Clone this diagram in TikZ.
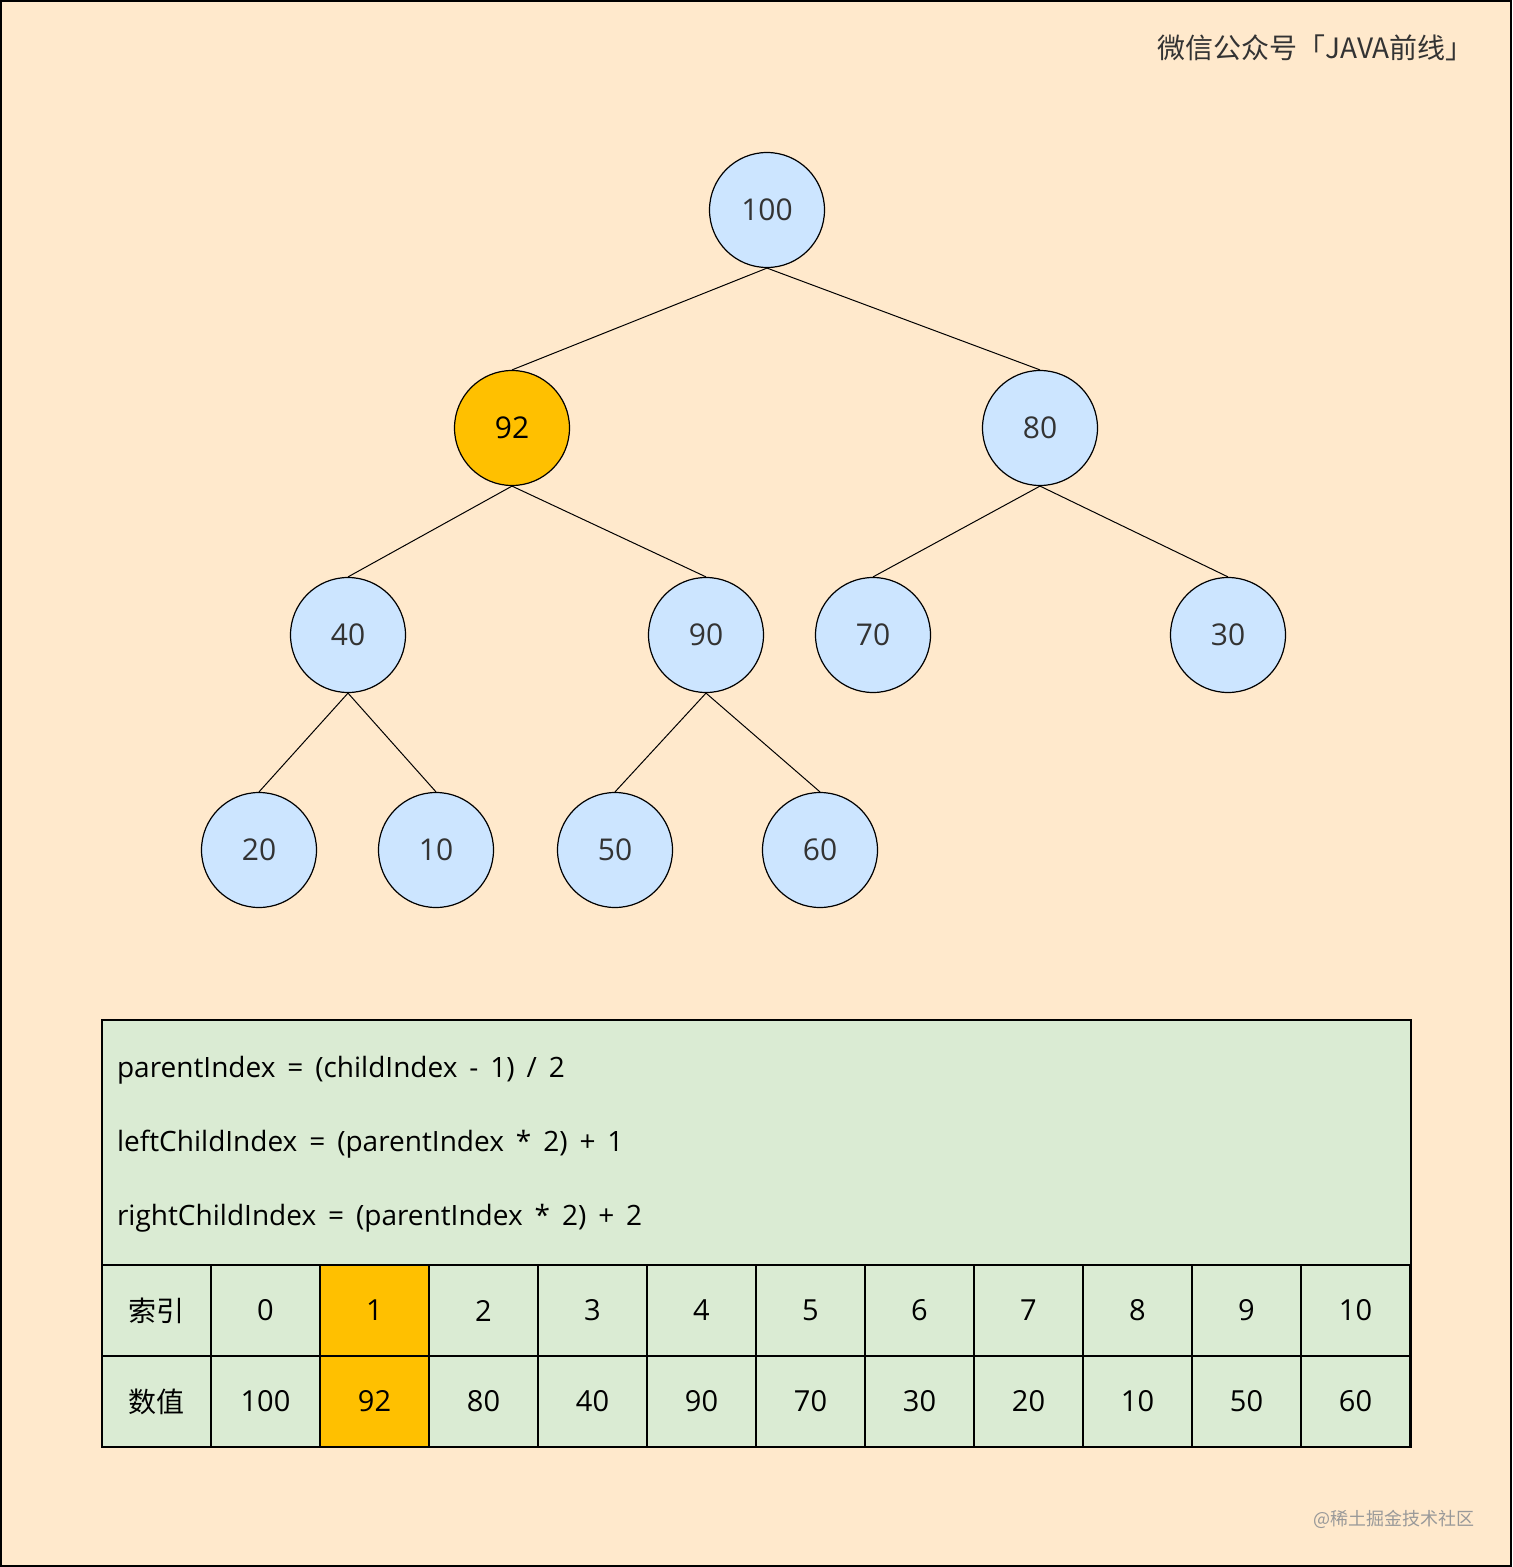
\documentclass[tikz,border=0pt]{standalone}
\usepackage{fontspec}
\setmainfont{Open Sans}
\newfontfamily\cjk{Noto Sans CJK SC}
\definecolor{bg}{HTML}{FFE9CC}
\definecolor{nb}{HTML}{CCE5FF}
\definecolor{og}{HTML}{FFC000}
\definecolor{gr}{HTML}{DAEBD3}
\definecolor{tx}{HTML}{333333}
\begin{document}
\begin{tikzpicture}[x=0.5pt,y=-0.5pt,
  nd/.style={circle,draw=black,line width=0.6pt,fill=nb,minimum size=57.5pt,inner sep=0pt,font=\fontsize{15}{18}\selectfont,text=tx},
  cell/.style={draw=black,line width=0.6pt,minimum width=54.5pt,minimum height=45.5pt,inner sep=0pt,fill=gr,font=\fontsize{14.5}{17}\selectfont,text=black},
  ed/.style={line width=0.5pt}]
\path[fill=bg,draw=black,line width=0.8pt] (1,1) rectangle (1511,1566);
\useasboundingbox (0,0) rectangle (1512,1567);
\node[anchor=east,font=\cjk\fontsize{14}{17}\selectfont,text=tx] (title) at (1481,48) {微信公众号「JAVA前线」};
\node[nd] (a) at (767,210) {100};
\node[nd,fill=og,text=black] (b) at (512,428) {92};
\node[nd] (c) at (1040,428) {80};
\node[nd] (d) at (348,635) {40};
\node[nd] (e) at (706,635) {90};
\node[nd] (f) at (873,635) {70};
\node[nd] (g) at (1228,635) {30};
\node[nd] (h) at (259,850) {20};
\node[nd] (i) at (436,850) {10};
\node[nd] (j) at (615,850) {50};
\node[nd] (k) at (820,850) {60};
\foreach \p/\q in {a/b,a/c,b/d,b/e,c/f,c/g,d/h,d/i,e/j,e/k}
  \draw[ed] (\p.south) -- (\q.north);
\path[fill=gr,draw=black,line width=0.8pt] (102,1020) rectangle (1411,1265);
\node[anchor=west,font=\fontsize{14}{17}\selectfont] (f1) at (110,1070) {parentIndex\ \,=\ \,(childIndex\ \,-\ \,1)\ \,/\ \,2};
\node[anchor=west,font=\fontsize{14}{17}\selectfont] (f2) at (110,1144) {leftChildIndex\ \,=\ \,(parentIndex\ \,*\ \,2)\ \,+\ \,1};
\node[anchor=west,font=\fontsize{14}{17}\selectfont] (f3) at (110,1218) {rightChildIndex\ \,=\ \,(parentIndex\ \,*\ \,2)\ \,+\ \,2};
\node[cell,font=\cjk\fontsize{14}{17}\selectfont] (r0) at (156.5,1310.5) {索引};
\node[cell,font=\cjk\fontsize{14}{17}\selectfont] (v0) at (156.5,1401.5) {数值};
\foreach \n/\v [count=\c from 0] in {0/100,1/92,2/80,3/40,4/90,5/70,6/30,7/20,8/10,9/50,10/60}{
  \pgfmathsetmacro\xx{265.5+109*\c}
  \ifnum\c=1
    \node[cell,fill=og] (r\n x) at (\xx,1310.5) {\n};
    \node[cell,fill=og] (v\n x) at (\xx,1401.5) {\v};
  \else
    \node[cell] (r\n x) at (\xx,1310.5) {\n};
    \node[cell] (v\n x) at (\xx,1401.5) {\v};
  \fi}
\draw[line width=0.8pt] (102,1265) rectangle (1411,1447);
\node[anchor=east,font=\cjk\fontsize{9}{11}\selectfont,text=black!40] (wm) at (1482,1519) {@稀土掘金技术社区};
\end{tikzpicture}
\end{document}
